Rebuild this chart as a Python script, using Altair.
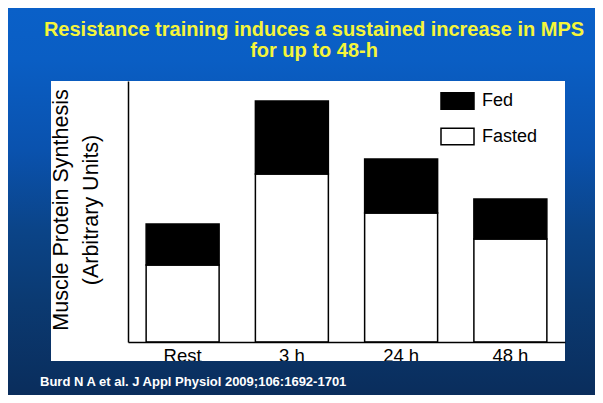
import altair as alt
import pandas as pd

# ---- data ----
PHASES = ["Rest", "3 h", "24 h", "48 h"]
FASTED = [77, 168, 129, 103]      # arbitrary units (white part)
FED_EXTRA = [41, 73, 54, 40]      # additional with feeding (black part)
SERIES = ["Fed", "Fasted"]
SERIES_COLORS = ["#000000", "#ffffff"]

TITLE_LINES = ["Resistance training induces a sustained increase in MPS", "for up to 48-h"]
Y_TITLE_LINES = ["Muscle Protein Synthesis", "(Arbitrary Units)"]
CITATION = "Burd N A et al. J Appl Physiol 2009;106:1692-1701"

rows = []
for p, fa, fe in zip(PHASES, FASTED, FED_EXTRA):
    rows.append({"Phase": p, "Condition": "Fasted", "Value": fa, "ord": 0})
    rows.append({"Phase": p, "Condition": "Fed", "Value": fe, "ord": 1})
df = pd.DataFrame(rows)
lab_df = pd.DataFrame({"Phase": PHASES})

W, H = 437, 261
PAD = {"left": 120, "top": 73, "right": 30, "bottom": 53}
FONT = "Liberation Sans"
one = pd.DataFrame({"_": [0]})

xscale = alt.Scale(domain=PHASES, paddingInner=0.332, paddingOuter=0.166)

bg = alt.Chart(one).mark_rect(
    color=alt.Gradient(
        gradient="linear", x1=0, x2=0, y1=0, y2=1,
        stops=[
            alt.GradientStop(offset=0, color="#0A60C8"),
            alt.GradientStop(offset=0.134, color="#0A5EC4"),
            alt.GradientStop(offset=0.367, color="#0A52AE"),
            alt.GradientStop(offset=0.574, color="#0B4488"),
            alt.GradientStop(offset=0.755, color="#0B3A72"),
            alt.GradientStop(offset=1, color="#0A2D5C"),
        ],
    )
).encode(
    x=alt.value(-PAD["left"]), x2=alt.value(W + PAD["right"]),
    y=alt.value(-PAD["top"]), y2=alt.value(H + PAD["bottom"]),
)

panel = alt.Chart(one).mark_rect(color="white").encode(
    x=alt.value(-77), x2=alt.value(W), y=alt.value(0), y2=alt.value(280)
)

bars = alt.Chart(df).mark_bar(stroke="black", strokeWidth=1.5).encode(
    x=alt.X("Phase:N", sort=PHASES, scale=xscale,
            axis=alt.Axis(title=None, labels=False, ticks=False,
                          domainColor="black", domainWidth=1.5, zindex=1)),
    y=alt.Y("Value:Q", stack="zero", scale=alt.Scale(domain=[0, 261], nice=False),
            axis=alt.Axis(title=None, labels=False, ticks=False, grid=False,
                          domainColor="black", domainWidth=1.5, zindex=1)),
    color=alt.Color("Condition:N",
                    scale=alt.Scale(domain=SERIES, range=SERIES_COLORS),
                    legend=alt.Legend(title=None, orient="none", legendX=312, legendY=2.5,
                                      symbolType="M-1,-0.5H1V0.5H-1Z", symbolSize=1089,
                                      symbolStrokeColor="black", symbolStrokeWidth=1.5,
                                      symbolOpacity=1, labelFontSize=18, labelFont=FONT,
                                      labelColor="black", labelOffset=7, rowPadding=6.5,
                                      padding=0)),
    order=alt.Order("ord:Q", sort="ascending"),
)

# category labels under the axis (clipped by the slide band like the reference)
xlabels = alt.Chart(lab_df).mark_text(
    font=FONT, fontSize=18.5, color="black", baseline="alphabetic", align="center"
).encode(
    x=alt.X("Phase:N", sort=PHASES, scale=xscale, title=None),
    y=alt.value(280.5),
    text="Phase:N",
)

strip = alt.Chart(one).mark_rect(
    color=alt.Gradient(
        gradient="linear", x1=0, x2=0, y1=0, y2=1,
        stops=[
            alt.GradientStop(offset=0, color="#0A3264"),
            alt.GradientStop(offset=1, color="#0A2D5C"),
        ],
    )
).encode(
    x=alt.value(-PAD["left"]), x2=alt.value(W + PAD["right"]),
    y=alt.value(280), y2=alt.value(H + PAD["bottom"]),
)

def txt(s, x, y, size, color, weight="normal", angle=0, align="center"):
    kw = dict(font=FONT, fontSize=size, color=color, fontWeight=weight,
              align=align, baseline="middle")
    if angle:
        kw["angle"] = angle
    return alt.Chart(one).mark_text(**kw).encode(
        x=alt.value(x), y=alt.value(y), text=alt.value(s))

texts = [
    txt(TITLE_LINES[0], 186, -51, 20, "#F5F53A", "bold"),
    txt(TITLE_LINES[1], 186, -30, 20, "#F5F53A", "bold"),
    txt(Y_TITLE_LINES[0], -66, 129, 21.5, "black", angle=270),
    txt(Y_TITLE_LINES[1], -36, 129, 21.5, "black", angle=270),
    txt(CITATION, -88, 301, 13, "white", "bold", align="left"),
]

chart = alt.layer(bg, panel, bars, xlabels, strip, *texts).properties(
    width=W, height=H, autosize="none", padding=PAD
).configure_view(stroke=None)

chart.save("out.html", embed_options={"renderer": "svg", "actions": False})
